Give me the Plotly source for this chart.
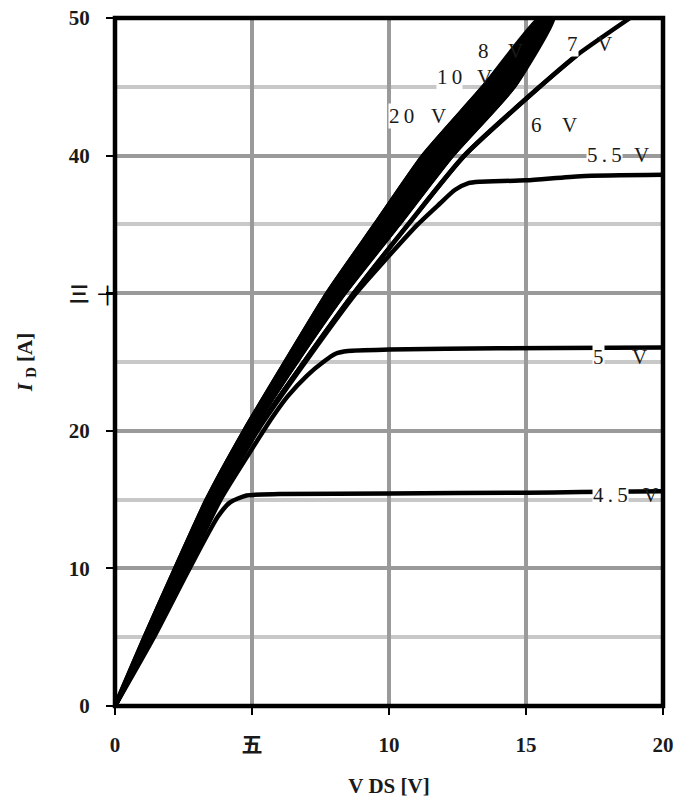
import plotly.graph_objects as go

# Output characteristics: I_D [A] vs V_DS [V] for several V_GS
id_grid = [0, 5, 10, 15, 20, 25, 30, 35, 40, 45, 50]

vds_20v = [0, 1.08, 2.2, 3.35, 4.72, 6.22, 7.75, 9.5, 11.25, 13.45, 15.5]
id_20v = id_grid
vds_10v = [0, 1.14, 2.3, 3.47, 4.86, 6.42, 8.05, 9.9, 11.75, 14.0, 15.75]
id_10v = id_grid
vds_8v = [0, 1.2, 2.4, 3.58, 5.0, 6.62, 8.37, 10.35, 12.3, 14.55, 16.0]
id_8v = id_grid
vds_7v = [0, 1.25, 2.48, 3.7, 5.15, 6.9, 8.72, 10.7, 12.75, 15.5, 16.86, 18.8]
id_7v = [0, 5, 10, 15, 20, 25, 30, 35, 40, 45, 47.3, 50]
vds_6v = [0, 1.25, 2.48, 3.7, 5.15, 6.9, 8.72, 10.7, 12.75, 15.5, 16.86]
id_6v = [0, 5, 10, 15, 20, 25, 30, 35, 40, 45, 47.3]
vds_55v = [0, 1.3, 2.55, 3.78, 5.2, 6.95, 8.8, 9.9, 11.05, 11.85, 12.4, 12.9, 13.3, 15.0, 17.0, 20.0]
id_55v = [0, 5, 10, 15, 20, 25, 30, 32.5, 35, 36.5, 37.5, 38.0, 38.1, 38.2, 38.5, 38.6]
vds_5v = [0, 1.35, 2.62, 3.85, 5.1, 5.75, 6.3, 7.0, 7.6, 8.05, 8.5, 10.0, 14.0, 20.0]
id_5v = [0, 5, 10, 15, 19, 21, 22.5, 24, 25, 25.6, 25.8, 25.9, 26.0, 26.05]
vds_45v = [0, 1.42, 2.72, 3.75, 4.2, 4.8, 6.0, 10.0, 15.0, 17.0, 20.0]
id_45v = [0, 5, 10, 13.75, 14.8, 15.3, 15.4, 15.45, 15.5, 15.55, 15.6]

series = [
    ("4.5 V", vds_45v, id_45v),
    ("5 V", vds_5v, id_5v),
    ("5.5 V", vds_55v, id_55v),
    ("6 V", vds_6v, id_6v),
    ("7 V", vds_7v, id_7v),
    ("8 V", vds_8v, id_8v),
    ("10 V", vds_10v, id_10v),
    ("20 V", vds_20v, id_20v),
]

# curve labels: (number text, x of number, x of "V", y)
label_num = ["8", "1\u20090", "2\u20090", "7", "6", "5\u2009.\u20095", "5", "4\u2009.\u20095"]
label_num_x = [13.45, 12.2, 10.47, 16.7, 15.4, 17.85, 17.65, 18.1]
label_v_x = [14.6, 13.5, 11.82, 17.85, 16.6, 19.23, 19.16, 19.53]
label_y = [47.6, 45.7, 42.9, 48.1, 42.2, 40.05, 25.4, 15.33]

x_tickvals = [0, 5, 10, 15, 20]
x_ticktext = ["0", "五", "10", "15", "20"]
y_tickvals = [0, 10, 20, 30, 40, 50]
y_ticktext = ["0", "10", "20", "三", "40", "50"]

SERIF = "Liberation Serif, Times New Roman, Noto Sans CJK SC, serif"
TXT = "#1a1a1a"

fig = go.Figure()
# the 8 V .. 20 V curves run together into one solid black band
fig.add_trace(go.Scatter(x=vds_20v + vds_8v[::-1], y=id_20v + id_8v[::-1],
                         mode="lines", fill="toself", fillcolor="black",
                         line=dict(color="black", width=4.5, shape="spline", smoothing=0.5),
                         showlegend=False, hoverinfo="skip"))
for name, xs, ys in series:
    fig.add_trace(go.Scatter(x=xs, y=ys, mode="lines", name=name,
                             line=dict(color="black", width=4.5, shape="spline", smoothing=0.6),
                             showlegend=False, hoverinfo="skip"))

ann = []
for t, xn, xv, yy in zip(label_num, label_num_x, label_v_x, label_y):
    ann.append(dict(x=xn, y=yy, xref="x", yref="y", text=t, showarrow=False,
                    font=dict(family=SERIF, size=21, color=TXT),
                    bgcolor="white", borderpad=0))
    ann.append(dict(x=xv, y=yy, xref="x", yref="y", text="V", showarrow=False,
                    font=dict(family=SERIF, size=21, color=TXT), borderpad=0))
# the "十" glyph of the 30 tick label sits right on the tick
ann.append(dict(x=0, y=30, xref="paper", yref="y", text="十", showarrow=False,
                xanchor="center", yanchor="middle", xshift=-8, yshift=-1,
                font=dict(family="Noto Sans CJK SC", size=21, color="black")))

fig.update_layout(
    width=675, height=799,
    margin=dict(l=115, r=12, t=18, b=93),
    paper_bgcolor="white", plot_bgcolor="white",
    annotations=ann,
    shapes=[dict(type="rect", xref="paper", yref="paper", x0=0, x1=1, y0=0, y1=1,
                 line=dict(color="black", width=4.5), layer="above")],
    xaxis=dict(range=[0, 20], tickvals=x_tickvals, ticktext=x_ticktext,
               automargin=False,
               showline=False, zeroline=False, showgrid=True,
               gridcolor="#9a9a9a", gridwidth=4,
               ticks="outside", ticklen=8, tickwidth=2, tickcolor="black",
               ticklabelstandoff=12,
               tickfont=dict(family=SERIF, size=21, color=TXT, weight="bold"),
               title=dict(text="<b>V DS [V]</b>", standoff=22,
                          font=dict(family=SERIF, size=21, color=TXT))),
    yaxis=dict(range=[0, 50], tickvals=y_tickvals, ticktext=y_ticktext,
               automargin=False,
               showline=False, zeroline=False, showgrid=True,
               gridcolor="#9a9a9a", gridwidth=4,
               minor=dict(dtick=5, showgrid=True, gridcolor="#c8c8c8", gridwidth=4, ticks=""),
               ticks="outside", ticklen=8, tickwidth=2, tickcolor="black",
               ticklabelstandoff=12,
               tickfont=dict(family=SERIF, size=21, color=TXT, weight="bold"),
               title=dict(text="<b><i>I</i> <sub>D</sub> [A]</b>", standoff=30,
                          font=dict(family=SERIF, size=21, color=TXT))),
)

fig.write_html("out.html")
